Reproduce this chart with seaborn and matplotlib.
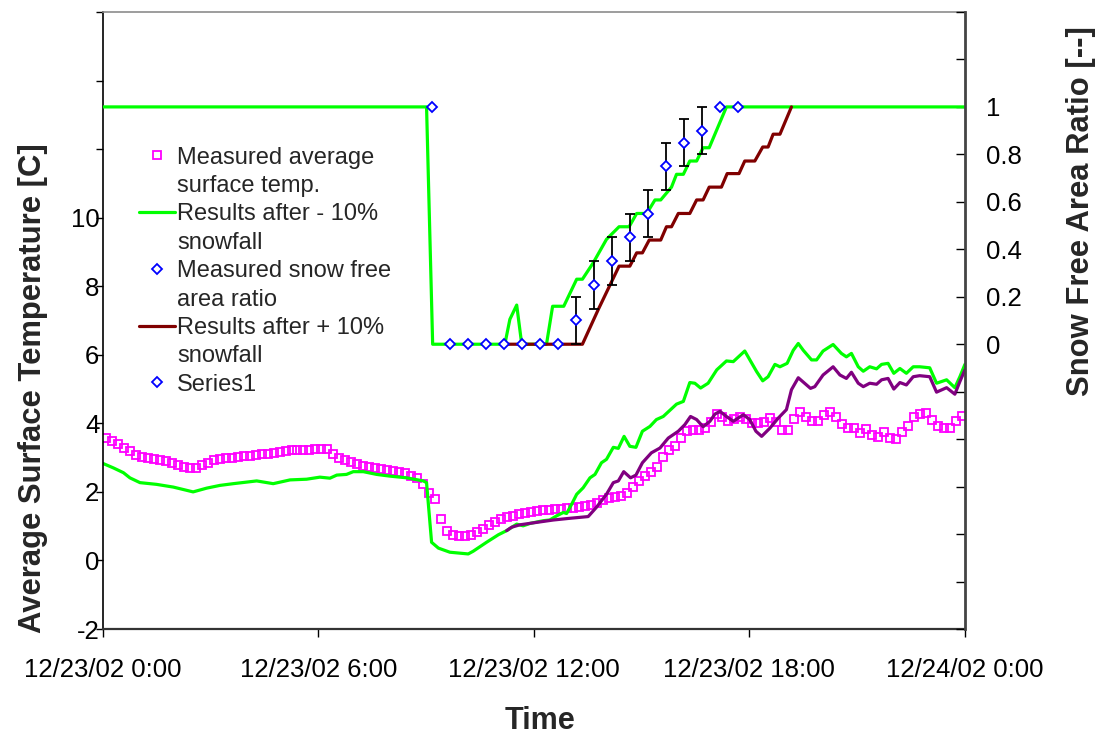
import numpy as np
import matplotlib
matplotlib.use("Agg")
import matplotlib.pyplot as plt
from matplotlib.lines import Line2D
import seaborn as sns

sns.set_style("white", {"xtick.bottom": True, "ytick.left": True})
plt.rcParams["font.family"] = ["Liberation Sans", "DejaVu Sans"]

# ---- measured average surface temperature, every 10 minutes from 0:05 ----
meas_start_h = 5 / 60
meas_step_h = 10 / 60
meas_temp = [
    3.56, 3.48, 3.39, 3.28, 3.18, 3.08, 3.02, 2.98, 2.95, 2.92,
    2.89, 2.83, 2.79, 2.73, 2.69, 2.69, 2.78, 2.85, 2.92, 2.95,
    2.98, 2.99, 3.01, 3.04, 3.06, 3.09, 3.11, 3.12, 3.14, 3.17,
    3.19, 3.21, 3.22, 3.22, 3.23, 3.24, 3.24, 3.24, 3.12, 3.00,
    2.94, 2.88, 2.80, 2.75, 2.73, 2.70, 2.67, 2.64, 2.62, 2.59,
    2.54, 2.47, 2.40, 2.24, 1.98, 1.80, 1.20, 0.85, 0.75, 0.72,
    0.72, 0.73, 0.82, 0.93, 1.02, 1.12, 1.20, 1.27, 1.31, 1.36,
    1.39, 1.41, 1.44, 1.46, 1.48, 1.49, 1.51, 1.52, 1.54, 1.56,
    1.58, 1.62, 1.68, 1.75, 1.82, 1.85, 1.88, 1.97, 2.14, 2.32,
    2.46, 2.57, 2.73, 3.01, 3.21, 3.33, 3.58, 3.77, 3.80, 3.80,
    3.87, 4.04, 4.27, 4.19, 4.06, 4.13, 4.18, 4.12, 4.01, 4.01,
    4.05, 4.15, 4.03, 3.82, 3.82, 4.12, 4.34, 4.19, 4.06, 4.08,
    4.24, 4.34, 4.18, 3.99, 3.85, 3.86, 3.72, 3.84, 3.67, 3.60,
    3.74, 3.57, 3.53, 3.74, 3.91, 4.18, 4.28, 4.30, 4.09, 3.93,
    3.86, 3.86, 4.06, 4.20,
]
meas_hours = [meas_start_h + i * meas_step_h for i in range(len(meas_temp))]

# ---- simulated surface temperature, -10 % snowfall ----
minus_temp_h = [
    0.00, 0.29, 0.57, 0.75, 1.03, 1.49, 1.96, 2.51, 2.89, 3.26,
    3.63, 4.28, 4.74, 5.21, 5.67, 6.04, 6.32, 6.51, 6.78, 6.97,
    7.25, 7.62, 7.99, 8.46, 8.92, 9.01, 9.15, 9.34, 9.66, 10.17,
    10.31, 10.68, 11.01, 11.24, 11.52, 11.70, 11.89, 12.26, 12.44, 12.63,
    12.82, 12.91, 13.05, 13.19, 13.37, 13.56, 13.70, 13.88, 14.02, 14.21,
    14.35, 14.51, 14.67, 14.84, 15.02, 15.23, 15.41, 15.60, 15.97, 16.16,
    16.34, 16.48, 16.64, 16.85, 17.09, 17.36, 17.55, 17.87, 18.20, 18.37,
    18.52, 18.71, 18.85, 19.05, 19.22, 19.36, 19.50, 19.73, 19.87, 20.05,
    20.33, 20.56, 20.70, 20.84, 21.03, 21.17, 21.35, 21.54, 21.68, 21.86,
    22.02, 22.19, 22.37, 22.56, 22.74, 23.02, 23.21, 23.49, 23.72, 23.86,
    24.00,
]
minus_temp = [
    2.83, 2.70, 2.56, 2.41, 2.27, 2.22, 2.14, 2.00, 2.11, 2.19,
    2.24, 2.32, 2.24, 2.35, 2.37, 2.43, 2.40, 2.49, 2.51, 2.59,
    2.59, 2.51, 2.46, 2.41, 2.32, 2.27, 0.53, 0.36, 0.24, 0.19,
    0.27, 0.53, 0.75, 0.87, 1.06, 1.01, 1.08, 1.16, 1.18, 1.30,
    1.40, 1.37, 1.64, 1.93, 2.12, 2.41, 2.51, 2.85, 2.95, 3.30,
    3.27, 3.62, 3.33, 3.30, 3.77, 3.91, 4.11, 4.20, 4.56, 4.64,
    5.19, 5.17, 5.03, 5.17, 5.56, 5.82, 5.80, 6.11, 5.51, 5.24,
    5.36, 5.72, 5.65, 5.75, 6.13, 6.33, 6.13, 5.85, 5.85, 6.11,
    6.30, 6.04, 5.94, 6.04, 5.65, 5.52, 5.65, 5.59, 5.72, 5.75,
    5.46, 5.60, 5.46, 5.65, 5.65, 5.62, 5.17, 5.27, 5.04, 5.36,
    5.72,
]

# ---- simulated surface temperature, +10 % snowfall ----
plus_temp_h = [
    11.24, 11.38, 11.61, 12.07, 12.54, 13.00, 13.51, 13.74,
    14.02, 14.21, 14.35, 14.50, 14.69, 14.84, 15.02, 15.27, 15.51, 15.74,
    16.02, 16.20, 16.36, 16.53, 16.71, 16.90, 17.04, 17.18, 17.36, 17.55,
    17.83, 18.01, 18.18, 18.34, 18.57, 18.80, 19.03, 19.17, 19.36, 19.70,
    19.82, 20.05, 20.33, 20.52, 20.70, 20.84, 21.03, 21.17, 21.35, 21.54,
    21.68, 21.86, 22.02, 22.19, 22.37, 22.56, 22.74, 23.02, 23.21, 23.49,
    23.72, 23.86, 24.00,
]
plus_temp = [
    0.87, 0.97, 1.04, 1.11, 1.18, 1.23, 1.28, 1.55,
    1.93, 2.27, 2.32, 2.59, 2.41, 2.49, 2.85, 3.14, 3.28, 3.57,
    3.77, 3.96, 4.20, 4.11, 3.90, 4.06, 4.27, 4.35, 4.20, 4.06,
    4.25, 4.11, 3.77, 3.62, 3.86, 4.15, 4.40, 4.98, 5.33, 5.02,
    5.07, 5.41, 5.65, 5.41, 5.31, 5.49, 5.17, 5.07, 5.17, 5.14,
    5.27, 5.31, 5.00, 5.19, 5.12, 5.36, 5.39, 5.36, 4.91, 5.04,
    4.85, 5.22, 5.56,
]

# ---- simulated snow free area ratio ----
minus_ratio_h = [
    0.00, 9.01, 9.18, 11.19, 11.33, 11.52, 11.66, 12.35, 12.52, 12.83,
    13.19, 13.35, 13.65, 14.02, 14.37, 14.65, 14.86, 15.14, 15.37, 15.53,
    15.83, 15.97, 16.16, 16.34, 16.53, 16.71, 16.88, 17.36, 24.00,
]
minus_ratio = [
    1.0, 1.0, 0.0, 0.0, 0.105, 0.165, 0.0, 0.0, 0.16, 0.16,
    0.274, 0.274, 0.343, 0.442, 0.495, 0.495, 0.551, 0.551, 0.608, 0.608,
    0.662, 0.716, 0.716, 0.772, 0.772, 0.828, 0.828, 1.0, 1.0,
]
plus_ratio_h = [
    11.24, 13.35, 13.79, 14.37, 14.67, 14.86, 15.02, 15.21,
    15.53, 15.69, 15.83, 16.02, 16.34, 16.53, 16.71, 16.88, 17.22, 17.38,
    17.71, 17.87, 18.15, 18.37, 18.52, 18.66, 18.85, 19.17,
]
plus_ratio = [
    0.0, 0.0, 0.146, 0.329, 0.329, 0.385, 0.385, 0.439,
    0.439, 0.495, 0.495, 0.551, 0.551, 0.608, 0.608, 0.662, 0.662, 0.719,
    0.719, 0.772, 0.772, 0.831, 0.831, 0.885, 0.885, 1.0,
]

# ---- measured snow free area ratio ----
snow_h = [9.67, 10.17, 10.67, 11.17, 11.67, 12.17, 12.67,
          13.17, 13.67, 14.17, 14.67, 15.17, 15.67, 16.17, 16.67]
snow_ratio = [0, 0, 0, 0, 0, 0, 0,
              0.10, 0.25, 0.35, 0.45, 0.55, 0.75, 0.85, 0.90]
snow_err = [0, 0, 0, 0, 0, 0, 0,
            0.1, 0.1, 0.1, 0.1, 0.1, 0.1, 0.1, 0.1]
series1_h = [9.17, 17.17, 17.67]
series1_ratio = [1.0, 1.0, 1.0]

x_ticks = [0, 6, 12, 18, 24]
x_tick_labels = ["12/23/02 0:00", "12/23/02 6:00", "12/23/02 12:00",
                 "12/23/02 18:00", "12/24/02 0:00"]

GREEN = "#00FF00"
MAROON = "#800000"
PURPLE = "#800080"
MAGENTA = "#FF00FF"
BLUE = "#0000FF"

fig = plt.figure(figsize=(11, 7.35), dpi=100)
ax = fig.add_axes([0.0936, 0.1442, 0.7836, 0.8395])
ax2 = ax.twinx()

# temperature (left axis)
sns.lineplot(x=meas_hours, y=meas_temp, ax=ax, estimator=None, sort=False,
             marker="s", linestyle="", markersize=6.2, color=MAGENTA,
             markerfacecolor="none", markeredgecolor=MAGENTA,
             markeredgewidth=1.3, label="meas_temp", legend=False)
sns.lineplot(x=minus_temp_h, y=minus_temp, ax=ax, estimator=None, sort=False,
             color=GREEN, linewidth=2.3, label="_nolegend_", legend=False)
sns.lineplot(x=plus_temp_h, y=plus_temp, ax=ax, estimator=None, sort=False,
             color=PURPLE, linewidth=2.3, label="_nolegend_", legend=False)

# snow free area ratio (right axis)
sns.lineplot(x=minus_ratio_h, y=minus_ratio, ax=ax2, estimator=None, sort=False,
             color=GREEN, linewidth=2.3, label="minus_ratio", legend=False)
sns.lineplot(x=plus_ratio_h, y=plus_ratio, ax=ax2, estimator=None, sort=False,
             color=MAROON, linewidth=2.3, label="plus_ratio", legend=False)

err_h = [h for h, e in zip(snow_h, snow_err) if e > 0]
err_v = [v for v, e in zip(snow_ratio, snow_err) if e > 0]
err_e = [e for e in snow_err if e > 0]
ax2.errorbar(err_h, err_v, yerr=err_e, fmt="none", ecolor="black",
             elinewidth=1.3, capsize=3.5, capthick=1.3, zorder=3)
sns.lineplot(x=snow_h, y=snow_ratio, ax=ax2, estimator=None, sort=False,
             marker="D", linestyle="", markersize=5, color=BLUE,
             markerfacecolor="white", markeredgecolor=BLUE,
             markeredgewidth=1.3, label="snow_meas", legend=False, zorder=4)
sns.lineplot(x=series1_h, y=series1_ratio, ax=ax2, estimator=None, sort=False,
             marker="D", linestyle="", markersize=5, color=BLUE,
             markerfacecolor="white", markeredgecolor=BLUE,
             markeredgewidth=1.3, label="series1", legend=False, zorder=4)

# axes ranges and ticks
ax.set_xlim(0, 24)
ax.set_ylim(-2, 16)
ax2.set_ylim(-1.2, 1.4)
ax.set_xticks(x_ticks)
ax.set_xticklabels(x_tick_labels)

left_ticks = np.arange(-2, 17, 2)
ax.set_yticks(left_ticks)
ax.set_yticklabels([f"{t:g}" if t <= 10 else "" for t in left_ticks])
right_ticks = np.arange(-6, 8) / 5
ax2.set_yticks(right_ticks)
ax2.set_yticklabels([f"{abs(t) if t == 0 else t:g}" if 0 <= t <= 1 else ""
                     for t in right_ticks])

ax.tick_params(axis="x", direction="out", length=6, width=1,
               labelsize=18.5, pad=15, colors="black")
ax.tick_params(axis="y", direction="out", length=5, width=1,
               labelsize=18.5, pad=-2.5, colors="black")
ax2.tick_params(axis="y", right=True, direction="in", length=6.5, width=1,
                labelsize=18.5, pad=15, colors="black")

for a in (ax, ax2):
    for side in ("left", "bottom", "top", "right"):
        a.spines[side].set_visible(False)
ax.spines["left"].set_visible(True)
ax.spines["left"].set_color("black")
ax.spines["left"].set_linewidth(1.2)
ax.spines["bottom"].set_visible(True)
ax.spines["bottom"].set_color("#333333")
ax.spines["bottom"].set_linewidth(1.6)
ax.spines["top"].set_visible(True)
ax.spines["top"].set_color("#8c8c8c")
ax.spines["top"].set_linewidth(1.2)
ax2.spines["right"].set_visible(True)
ax2.spines["right"].set_color("#444444")
ax2.spines["right"].set_linewidth(2.0)

ax.set_xlabel("Time", fontsize=22, fontweight="bold")
ax.set_ylabel("Average Surface Temperature [C]", fontsize=22.3, fontweight="bold")
ax2.set_ylabel("Snow Free Area Ratio [--]", fontsize=22.3, fontweight="bold")
ax.xaxis.set_label_coords(0.507, -0.125)
ax.yaxis.set_label_coords(-0.064, 0.39)
ax2.yaxis.set_label_coords(1.1167, 0.677)

# legend: one row per text line, the marker sits on the first line of each entry
h1, l1 = ax.get_legend_handles_labels()
h2, l2 = ax2.get_legend_handles_labels()
lookup = dict(zip(l1 + l2, h1 + h2))
blank = Line2D([], [], linestyle="", marker="")
legend_rows = [
    (lookup["meas_temp"], "Measured average"),
    (blank, "surface temp."),
    (lookup["minus_ratio"], "Results after - 10%"),
    (blank, "snowfall"),
    (lookup["snow_meas"], "Measured snow free"),
    (blank, "area ratio"),
    (lookup["plus_ratio"], "Results after + 10%"),
    (blank, "snowfall"),
    (lookup["series1"], "Series1"),
]
leg = ax2.legend([r[0] for r in legend_rows], [r[1] for r in legend_rows],
                 loc="upper left", bbox_to_anchor=(0.031, 0.797),
                 frameon=False, fontsize=17, handlelength=1.5,
                 handletextpad=0.12, labelspacing=0.27, borderaxespad=0.0)

fig.savefig("out.png", dpi=100, facecolor="white")
